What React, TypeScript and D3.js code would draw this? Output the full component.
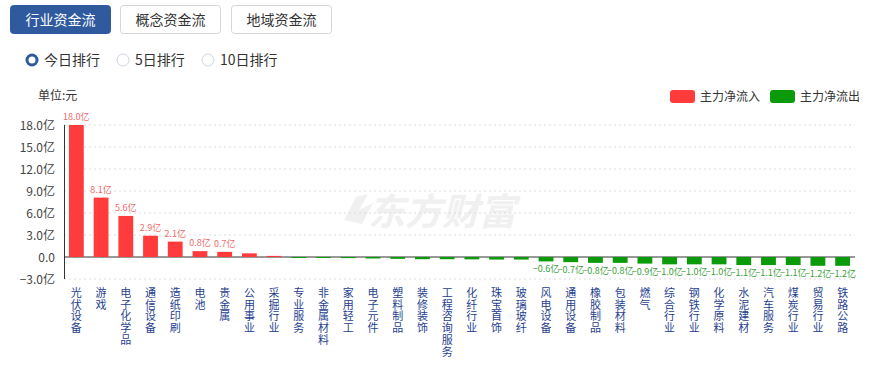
import React from 'react';
import * as d3 from 'd3';

const categories = [
  '光伏设备', '游戏', '电子化学品', '通信设备', '造纸印刷', '电池', '贵金属', '公用事业',
  '采掘行业', '专业服务', '非金属材料', '家用轻工', '电子元件', '塑料制品', '装修装饰', '工程咨询服务',
  '化纤行业', '珠宝首饰', '玻璃玻纤', '风电设备', '通用设备', '橡胶制品', '包装材料', '燃气',
  '综合行业', '钢铁行业', '化学原料', '水泥建材', '汽车服务', '煤炭行业', '贸易行业', '铁路公路'
];
// 亿元
const values = [
  18.0, 8.1, 5.6, 2.9, 2.1, 0.8, 0.7, 0.5,
  0.15, -0.06, -0.1, -0.15, -0.2, -0.25, -0.3, -0.3,
  -0.32, -0.35, -0.35, -0.6, -0.7, -0.8, -0.8, -0.9,
  -1.0, -1.0, -1.0, -1.1, -1.1, -1.1, -1.2, -1.2
];
// only these get a value label
const labelled = [true, true, true, true, true, true, true, false,
  false, false, false, false, false, false, false, false,
  false, false, false, true, true, true, true, true,
  true, true, true, true, true, true, true, true];
const yTicks = [-3, 0, 3, 6, 9, 12, 15, 18];
const tabs = ['行业资金流', '概念资金流', '地域资金流'];
const radios = ['今日排行', '5日排行', '10日排行'];
const legendItems = [{ name: '主力净流入', color: '#ff3b3b' }, { name: '主力净流出', color: '#0a9a0a' }];

const RED = '#ff3b3b';
const GREEN = '#0a9a0a';
const FONT = '"Noto Sans CJK SC", "Microsoft YaHei", sans-serif';

export default function App() {
  const W = 873, H = 367;
  const left = 64, right = 855;
  const x = d3.scaleBand<string>().domain(categories).range([left, right]).paddingInner(0.4).paddingOuter(0.2);
  const y = d3.scaleLinear().domain([-3, 18]).range([279, 125]);
  const fmt = (v: number) => (v === 0 ? '0.0' : d3.format('.1f')(v) + '亿');

  const tabX = [10, 120, 231];
  const radioX = [32, 123, 208];

  return (
    <svg width={W} height={H} style={{ position: 'absolute', left: 0, top: 0, fontFamily: FONT }}>
      <rect width={W} height={H} fill="#fff" />

      {/* tabs */}
      {tabs.map((t, i) => (
        <g key={t} transform={`translate(${tabX[i]},5)`}>
          <rect x={0.5} y={0.5} width={100} height={28} rx={3}
                fill={i === 0 ? '#2f5a9e' : '#fff'} stroke={i === 0 ? '#2f5a9e' : '#d6d6d6'} />
          <text x={50.5} y={20} textAnchor="middle" fontSize={14} fill={i === 0 ? '#fff' : '#333'}>{t}</text>
        </g>
      ))}

      {/* radios */}
      {radios.map((r, i) => (
        <g key={r}>
          {i === 0
            ? <circle cx={radioX[i]} cy={60} r={5} fill="#fff" stroke="#2f5a9e" strokeWidth={3} />
            : <circle cx={radioX[i]} cy={60} r={6} fill="#fff" stroke="#ccd5e0" strokeWidth={1} />}
          <text x={radioX[i] + 12} y={65} fontSize={14} fill="#333">{r}</text>
        </g>
      ))}

      <text x={38} y={100} fontSize={12} fill="#333">单位:元</text>

      {/* legend */}
      {legendItems.map((l, i) => (
        <g key={l.name} transform={`translate(${670 + i * 100},90)`}>
          <rect width={25} height={13} rx={3} fill={l.color} />
          <text x={30} y={11} fontSize={12} fill="#333">{l.name}</text>
        </g>
      ))}

      {/* watermark */}
      <g fill="#f0f0f0">
        <path d="M344 220 L356 197 L368 194 L359 210 L373 203 L362 224 Z" />
        <text x={368} y={225} fontSize={37} fontWeight="bold" fontStyle="italic" fill="#f0f0f0">东方财富</text>
      </g>

      {/* grid */}
      {yTicks.map(t => (
        <line key={t} x1={left} x2={right} y1={y(t)} y2={y(t)}
              stroke={t === 0 ? '#333' : '#ddd'} strokeWidth={1}
              strokeDasharray={t === 0 ? undefined : '2,3'} />
      ))}
      <line x1={left + 0.5} x2={left + 0.5} y1={y(18)} y2={y(-3)} stroke="#333" />

      {yTicks.map(t => (
        <text key={t} x={55} y={y(t) + 4.5} textAnchor="end" fontSize={12} fill="#444">{fmt(t)}</text>
      ))}

      {/* bars */}
      {categories.map((c, i) => {
        const v = values[i];
        const y0 = y(0), y1 = y(v);
        return (
          <rect key={c} x={x(c)} width={x.bandwidth()} y={Math.min(y0, y1)}
                height={Math.max(1, Math.abs(y1 - y0))} fill={v >= 0 ? RED : GREEN} />
        );
      })}

      {/* value labels */}
      {categories.map((c, i) => {
        if (!labelled[i]) return null;
        const v = values[i];
        const cx = (x(c) as number) + x.bandwidth() / 2;
        return (
          <text key={c} x={cx} y={v >= 0 ? y(v) - 5 : y(v) + 11} textAnchor="middle" fontSize={9}
                fill={v >= 0 ? '#f06a6a' : '#3aa03a'}>{fmt(v)}</text>
        );
      })}

      {/* category labels, stacked vertically */}
      {categories.map(c => {
        const cx = (x(c) as number) + x.bandwidth() / 2;
        return (
          <text key={c} x={cx} y={297} textAnchor="middle" fontSize={11} fill="#1f3f8f">
            {c.split('').map((ch, k) => (
              <tspan key={k} x={cx} dy={k === 0 ? 0 : 11.7}>{ch}</tspan>
            ))}
          </text>
        );
      })}
    </svg>
  );
}
